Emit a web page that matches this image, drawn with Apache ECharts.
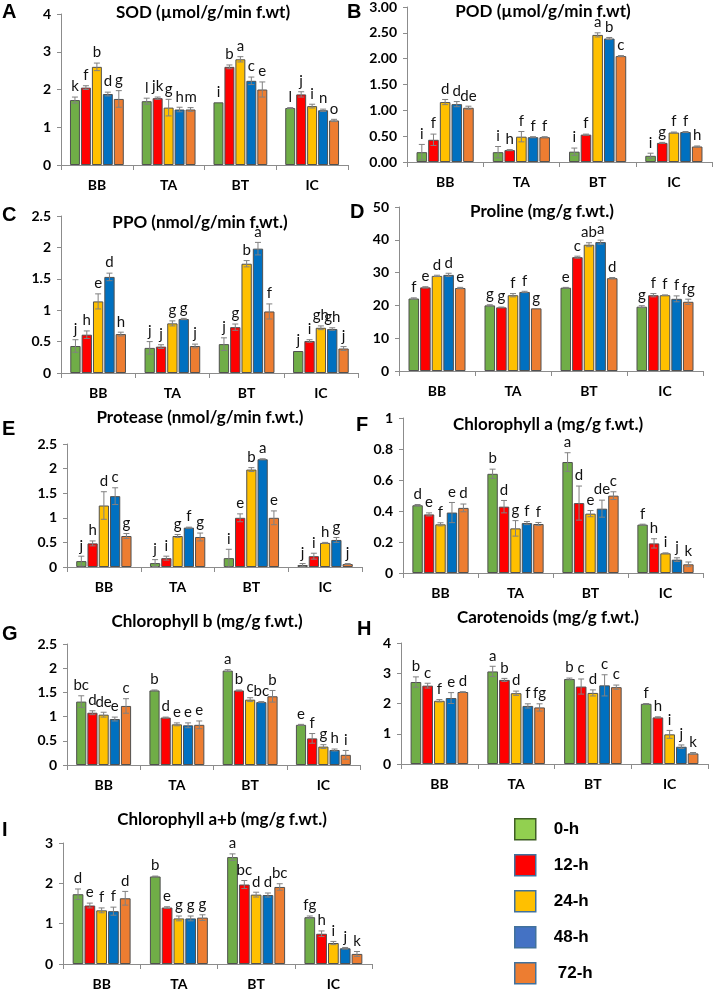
<!DOCTYPE html>
<html><head><meta charset="utf-8">
<script src="https://cdn.jsdelivr.net/npm/echarts@6/dist/echarts.min.js"></script>
<style>html,body{margin:0;padding:0;background:#fff}#c{width:713px;height:991px}</style>
</head><body><div id="c"></div>
<script>
const categories = ['BB', 'TA', 'BT', 'IC'];
const timePoints = ['0-h', '12-h', '24-h', '48-h', '72-h'];

// rows = categories (BB, TA, BT, IC); columns = time points (0, 12, 24, 48, 72 h)
const sodMean = [[1.72,2.05,2.60,1.88,1.75],[1.69,1.77,1.52,1.47,1.47],[1.66,2.60,2.80,2.23,2.00],[1.51,1.87,1.56,1.45,1.18]];
const sodErr = [[0.08,0.05,0.10,0.05,0.22],[0.08,0.03,0.22,0.06,0.05],[0,0.05,0.07,0.10,0.20],[0.01,0.07,0.05,0.03,0.03]];
const sodLetters = [['k','f','b','d','g'],['l','jk','g','h','m'],['i','b','a','c','e'],['l','j','i','n','o']];

const podMean = [[0.19,0.43,1.16,1.12,1.05],[0.19,0.23,0.49,0.48,0.48],[0.20,0.53,2.46,2.39,2.05],[0.12,0.37,0.57,0.58,0.30]];
const podErr = [[0.15,0.11,0.05,0.05,0.03],[0.11,0.01,0.10,0.01,0.01],[0.07,0.01,0.04,0.02,0.01],[0.05,0.01,0.01,0.01,0.01]];
const podLetters = [['i','f','d','d','de'],['i','h','f','f','f'],['i','f','a','b','c'],['i','g','f','f','h']];

const ppoMean = [[0.43,0.61,1.14,1.53,0.62],[0.40,0.42,0.79,0.86,0.43],[0.46,0.73,1.74,1.98,0.98],[0.35,0.51,0.72,0.70,0.39]];
const ppoErr = [[0.10,0.06,0.12,0.06,0.03],[0.10,0.03,0.04,0.01,0.03],[0.10,0.05,0.05,0.10,0.12],[0,0.02,0.03,0.02,0.03]];
const ppoLetters = [['j','h','e','d','h'],['j','j','g','g','j'],['j','g','b','a','f'],['j','i','gh','gh','j']];

const prolineMean = [[22.1,25.5,29.0,29.3,25.3],[20.0,19.4,23.1,24.1,19.1],[25.4,34.7,38.5,39.3,28.3],[19.6,23.1,23.1,22.0,21.1]];
const prolineErr = [[0.2,0.2,0.2,0.5,0.2],[0.2,0.1,0.5,0.2,0],[0.1,0.3,0.6,0.6,0.2],[0.3,0.5,0.1,0.9,0.8]];
const prolineLetters = [['f','e','d','d','e'],['g','g','f','f','g'],['e','c','ab','a','d'],['g','f','f','f','fg']];

const proteaseMean = [[0.12,0.48,1.25,1.44,0.63],[0.08,0.18,0.63,0.80,0.61],[0.18,1.00,1.98,2.19,1.00],[0.04,0.22,0.49,0.55,0.06]];
const proteaseErr = [[0.10,0.05,0.28,0.17,0.05],[0.07,0.04,0.03,0.01,0.08],[0.18,0.08,0.04,0.01,0.14],[0.03,0.06,0.01,0.05,0.01]];
const proteaseLetters = [['j','h','d','c','g'],['j','i','g','f','g'],['i','e','b','a','e'],['j','i','h','g','j']];

const chlAMean = [[0.437,0.378,0.314,0.390,0.420],[0.640,0.428,0.288,0.322,0.316],[0.716,0.451,0.383,0.415,0.499],[0.312,0.191,0.127,0.086,0.056]];
const chlAErr = [[0.005,0.01,0.01,0.065,0.025],[0.03,0.04,0.05,0.01,0.01],[0.06,0.11,0.02,0.055,0.025],[0.003,0.03,0.003,0.012,0.015]];
const chlALetters = [['d','e','f','e','d'],['b','d','g','f','f'],['a','d','e','de','c'],['f','h','i','j','k']];

const chlBMean = [[1.31,1.08,1.04,0.95,1.22],[1.54,0.98,0.84,0.82,0.83],[1.95,1.54,1.35,1.30,1.42],[0.83,0.55,0.38,0.31,0.21]];
const chlBErr = [[0.12,0.04,0.05,0.04,0.15],[0.01,0.01,0.03,0.05,0.08],[0.02,0.01,0.04,0.01,0.12],[0.01,0.10,0.04,0.02,0.09]];
const chlBLetters = [['bc','d','de','e','c'],['b','d','e','e','e'],['a','b','c','bc','b'],['e','f','g','h','i']];

const carMean = [[2.71,2.59,2.09,2.18,2.38],[3.06,2.78,2.34,1.92,1.87],[2.81,2.56,2.35,2.60,2.54],[1.99,1.54,0.98,0.57,0.35]];
const carErr = [[0.17,0.08,0.04,0.18,0.01],[0.17,0.05,0.07,0.07,0.12],[0.03,0.25,0.10,0.35,0.07],[0.01,0.02,0.13,0.06,0.03]];
const carLetters = [['b','c','f','e','d'],['a','b','d','f','fg'],['b','c','d','c','c'],['f','h','i','j','k']];

const chlABMean = [[1.73,1.45,1.33,1.31,1.63],[2.17,1.40,1.13,1.13,1.15],[2.65,1.97,1.72,1.71,1.91],[1.16,0.75,0.52,0.39,0.25]];
const chlABErr = [[0.13,0.06,0.06,0.10,0.17],[0.01,0.02,0.06,0.06,0.07],[0.08,0.10,0.06,0.05,0.08],[0.03,0.07,0.04,0.02,0.06]];
const chlABLetters = [['d','e','f','f','d'],['b','e','g','g','g'],['a','bc','d','d','bc'],['fg','h','i','j','k']];

const panelTitles = ['SOD (µmol/g/min f.wt)','POD (µmol/g/min f.wt)','PPO (nmol/g/min f.wt.)','Proline (mg/g f.wt.)','Protease (nmol/g/min f.wt.)','Chlorophyll a (mg/g f.wt.)','Chlorophyll b (mg/g f.wt.)','Carotenoids (mg/g f.wt.)','Chlorophyll a+b (mg/g f.wt.)'];
const panelLetters = ['A','B','C','D','E','F','G','H','I'];
const yMax = [4, 3, 2.5, 50, 2.5, 1, 2.5, 4, 3];
const yInterval = [1, 0.5, 0.5, 10, 0.5, 0.2, 0.5, 1, 1];

const barColors = ['#70AD47','#FF0000','#FFC000','#0070C0','#ED7D31'];
const legendColors = ['#92D050','#FF0000','#FFC000','#4472C4','#ED7D31'];
const legendBorders = ['#3F5F24','#41719C','#41719C','#41719C','#41719C'];

const means = [sodMean, podMean, ppoMean, prolineMean, proteaseMean, chlAMean, chlBMean, carMean, chlABMean];
const errs = [sodErr, podErr, ppoErr, prolineErr, proteaseErr, chlAErr, chlBErr, carErr, chlABErr];
const letters = [sodLetters, podLetters, ppoLetters, prolineLetters, proteaseLetters, chlALetters, chlBLetters, carLetters, chlABLetters];

// layout
const grids = [
  {left:61, top:14, width:287, height:151},
  {left:407, top:7, width:305, height:155},
  {left:61, top:216, width:297, height:157},
  {left:399, top:207, width:304, height:164},
  {left:67, top:444, width:295, height:123},
  {left:403, top:418, width:300, height:155},
  {left:67, top:644, width:293, height:121},
  {left:401, top:643, width:307, height:121},
  {left:63, top:843, width:309, height:122}
];
const titlePos = [[203,13],[543,12],[200,223],[542,212],[200,418],[548,425],[207,622],[548,618],[222,820]];
const letterPos = [[2,12],[347,12],[2,215],[350,212],[2,429],[356,425],[2,634],[357,629],[2,830]];

const CAT_GAP = 0.25, BAR_GAP = 0.10;
const AX = '#8c8c8c';
const FONT = 'Lato';

function makeRender(lets) {
  return function (params, api) {
    const c = api.value(0), t = api.value(1), v = api.value(2), e = api.value(3);
    const bandW = api.size([1, 0])[0];
    const inner = bandW * (1 - CAT_GAP);
    const bw = inner / (5 + 4 * BAR_GAP);
    const center = api.coord([c, 0])[0];
    const x = center - inner / 2 + t * bw * (1 + BAR_GAP) + bw / 2;
    const yTop = api.coord([c, v + e])[1];
    const yBot = api.coord([c, Math.max(0, v - e)])[1];
    const children = [];
    const ls = {stroke:'#808080', lineWidth:1};
    if (e > 0) {
      children.push({type:'line', shape:{x1:x, y1:yTop, x2:x, y2:yBot}, style:ls});
      children.push({type:'line', shape:{x1:x-3, y1:yTop, x2:x+3, y2:yTop}, style:ls});
      children.push({type:'line', shape:{x1:x-3, y1:yBot, x2:x+3, y2:yBot}, style:ls});
    }
    children.push({type:'text', style:{text:lets[c][t], x:x, y:yTop - 3, align:'center', verticalAlign:'bottom', fontFamily:FONT, fontSize:15, fill:'#111'}});
    return {type:'group', children};
  };
}

const xAxis = [], yAxis = [], series = [], graphic = [];
grids.forEach((g, p) => {
  xAxis.push({type:'category', gridIndex:p, data:categories,
    axisLine:{show:true, lineStyle:{color:AX, width:1}},
    axisTick:{show:true, length:5, lineStyle:{color:AX}},
    axisLabel:{fontFamily:FONT, fontWeight:'bold', fontSize:14, color:'#000', margin:13}});
  yAxis.push({type:'value', gridIndex:p, min:0, max:yMax[p], interval:yInterval[p],
    axisLine:{show:true, lineStyle:{color:AX, width:1}},
    axisTick:{show:true, length:4, lineStyle:{color:AX}},
    splitLine:{show:false},
    axisLabel:{fontFamily:FONT, fontWeight:'bold', fontSize:14, color:'#000', margin:10,
      formatter: v => p === 1 ? v.toFixed(2) : String(Math.round(v * 10) / 10)}});
  for (let t = 0; t < 5; t++) {
    series.push({type:'bar', name:timePoints[t], xAxisIndex:p, yAxisIndex:p,
      data: means[p].map(row => row[t]),
      barGap:(BAR_GAP*100)+'%', barCategoryGap:(CAT_GAP*100)+'%',
      itemStyle:{color:barColors[t], borderColor:'#505050', borderWidth:1}});
  }
  const d = [];
  for (let c = 0; c < 4; c++) for (let t = 0; t < 5; t++) d.push([c, t, means[p][c][t], errs[p][c][t]]);
  series.push({type:'custom', xAxisIndex:p, yAxisIndex:p, z:5, renderItem: makeRender(letters[p]),
    encode:{x:0, y:2}, data:d, silent:true});
  graphic.push({type:'text', x:titlePos[p][0], y:titlePos[p][1], style:{text:panelTitles[p], fontFamily:FONT, fontWeight:'bold', fontSize:17, fill:'#000', align:'center', verticalAlign:'middle'}});
  graphic.push({type:'text', x:letterPos[p][0], y:letterPos[p][1], style:{text:panelLetters[p], fontFamily:'Liberation Sans', fontWeight:'bold', fontSize:20, fill:'#000', align:'left', verticalAlign:'middle'}});
});

const chart = echarts.init(document.getElementById('c'), null, {renderer:'canvas'});
chart.setOption({
  backgroundColor:'#fff',
  animation:false,
  grid: grids,
  xAxis, yAxis, series, graphic,
  legend:{orient:'vertical', left:514, top:818, height:172, padding:0, itemWidth:21, itemHeight:21, itemGap:13.5, icon:'rect', selectedMode:false,
    data: timePoints.map((n, i) => ({name:n, itemStyle:{color:legendColors[i], borderColor:legendBorders[i], borderWidth:1.5},
      textStyle: i === 4 ? {padding:[0,0,0,17]} : undefined})),
    textStyle:{fontFamily:'Liberation Sans', fontWeight:'bold', fontSize:17, color:'#000', padding:[0,0,0,13]}}
});
</script></body></html>
